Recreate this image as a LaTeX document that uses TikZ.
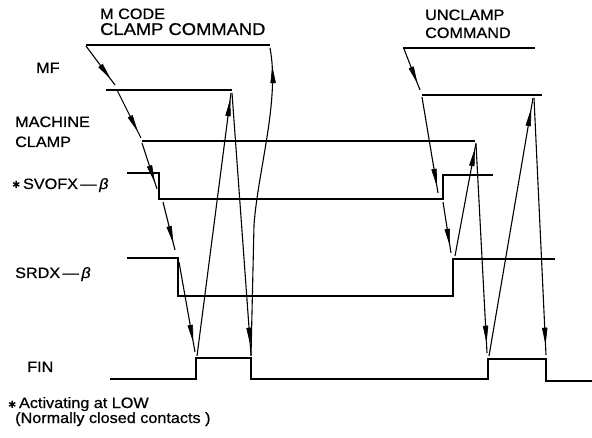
\documentclass[tikz,border=0pt]{standalone}
\usepackage{fontspec}
\setmainfont[FakeStretch=1.08,FakeBold=0.7]{Liberation Sans}
\newfontfamily\symfont{DejaVu Sans}
\usetikzlibrary{decorations.markings}
\newcommand{\hast}{{\symfont\fontsize{10}{12}\selectfont ✱}}
\begin{document}
\begin{tikzpicture}[x=1pt,y=-1pt,
  sig/.style={line width=1.8pt, line join=miter},
  lvl/.style={line width=1.4pt},
  arr/.style={line width=1.1pt, postaction={decorate},
    decoration={markings, mark=at position #1 with {\filldraw[line width=0.6pt, line join=round] (0pt,0pt) -- (-15pt,2.4pt) -- (-15pt,-2.4pt) -- cycle;}}},
  arr/.default=-9pt,
  lbl/.style={anchor=base west, inner sep=0pt, font=\fontsize{15}{18}\selectfont}]
\useasboundingbox (0,0) rectangle (592,438);

% labels
\node[lbl] (tmcode) at (100,19) {M CODE};
\node[lbl, font=\fontsize{17}{20}\selectfont] (tclampcmd) at (100,35) {CLAMP COMMAND};
\node[lbl] (tmf) at (36,73) {MF};
\node[lbl] (tmach) at (15,127) {MACHINE};
\node[lbl] (tclamp) at (15,147) {CLAMP};
\node[lbl] (tsvofx) at (12,189) {\hast\,SVOFX\,—\,\textit{β}};
\node[lbl] (tsrdx) at (15,278) {SRDX\,—\,\textit{β}};
\node[lbl] (tfin) at (27,372) {FIN};
\node[lbl] (tnote1) at (8,408) {\hast\,Activating at LOW};
\node[lbl] (tnote2) at (15,423) {(Normally closed contacts )};
\node[lbl] (tunclamp) at (425,20) {UNCLAMP};
\node[lbl] (tcommand) at (425,38) {COMMAND};

% level lines
\coordinate (mc1) at (86,45); \coordinate (mc2) at (270,45);
\coordinate (uc1) at (403,48); \coordinate (uc2) at (535,48);
\coordinate (mf1) at (106,90); \coordinate (mf2) at (232,90);
\coordinate (mf3) at (422,95); \coordinate (mf4) at (542,95);
\coordinate (cl1) at (142,141); \coordinate (cl2) at (475,141);
\draw[lvl] (mc1) -- (mc2);
\draw[lvl] (uc1) -- (uc2);
\draw[lvl] (mf1) -- (mf2);
\draw[lvl] (mf3) -- (mf4);
\draw[lvl] (cl1) -- (cl2);

% SVOFX
\draw[sig] (127,173) -- (159,173) -- (159,199) -- (443,199) -- (443,175) -- (493,175);
% SRDX
\draw[sig] (127,258) -- (178,258) -- (178,296) -- (453,296) -- (453,259) -- (555,259);
% FIN
\draw[sig] (110,379) -- (196,379) -- (196,358) -- (251,358) -- (251,379) -- (488,379) -- (488,359) -- (546,359) -- (546,381) -- (592,381);

% arrow end points
\coordinate (l1s) at (86,46);   \coordinate (l1e) at (115,85);
\coordinate (l2s) at (117,90);  \coordinate (l2e) at (141,138);
\coordinate (l3s) at (142,143); \coordinate (l3e) at (157,189);
\coordinate (l4s) at (163,202); \coordinate (l4e) at (175,250);
\coordinate (l5s) at (179,262); \coordinate (l5e) at (195,352);
\coordinate (l6s) at (197,356); \coordinate (l6e) at (231,93);
\coordinate (l7s) at (232,93);  \coordinate (l7e) at (251,355);
\coordinate (l8s) at (251,356); \coordinate (l8m) at (254,225); \coordinate (l8e) at (270,48);
\coordinate (r1s) at (404,49);  \coordinate (r1e) at (420,90);
\coordinate (r2s) at (422,97);  \coordinate (r2e) at (438,193);
\coordinate (r3s) at (443,202); \coordinate (r3e) at (451,253);
\coordinate (r4s) at (455,256); \coordinate (r4e) at (476,143);
\coordinate (r5s) at (476,144); \coordinate (r5e) at (487,353);
\coordinate (r6s) at (489,356); \coordinate (r6e) at (533,98);
\coordinate (r7s) at (534,98);  \coordinate (r7e) at (546,355);

\draw[arr] (l1s) -- (l1e);
\draw[arr] (l2s) -- (l2e);
\draw[arr] (l3s) -- (l3e);
\draw[arr] (l4s) -- (l4e);
\draw[arr=-12pt] (l5s) -- (l5e);
\draw[arr=-8pt] (l6s) -- (l6e);
\draw[arr=-12pt] (l7s) -- (l7e);
\draw[arr=-20pt] (l8s) -- (l8m) .. controls (258,170) and (280,100) .. (l8e);
\draw[arr] (r1s) -- (r1e);
\draw[arr] (r2s) -- (r2e);
\draw[arr] (r3s) -- (r3e);
\draw[arr=-8pt] (r4s) -- (r4e);
\draw[arr=-12pt] (r5s) -- (r5e);
\draw[arr=-13pt] (r6s) -- (r6e);
\draw[arr=-12pt] (r7s) -- (r7e);
\end{tikzpicture}
\end{document}
